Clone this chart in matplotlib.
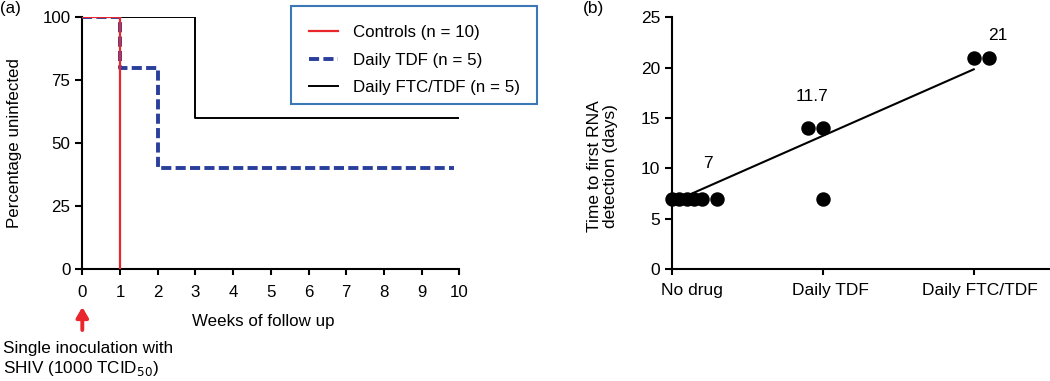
import matplotlib
matplotlib.use('Agg')
import matplotlib.pyplot as plt
import matplotlib.transforms as mtransforms
from matplotlib.patches import Rectangle
import numpy as np

plt.rcParams['font.family'] = ['Liberation Sans', 'DejaVu Sans']

# ---- panel (a) data: Kaplan-Meier style step curves ----
weeks_ctrl = [0, 1, 1]
pct_ctrl = [100, 100, 0]
weeks_tdf = [0, 1, 1, 2, 2, 9.85]
pct_tdf = [100, 100, 80, 80, 40, 40]
weeks_ftc = [0, 3, 3, 10]
pct_ftc = [100, 100, 60, 60]
week_ticks = list(range(0, 11))
pct_ticks = [0, 25, 50, 75, 100]

# ---- panel (b) data ----
groups = ["No drug", "Daily TDF", "Daily FTC/TDF"]
nodrug_days = [7, 7, 7, 7, 7, 7]
nodrug_jitter = [0, 0.05, 0.1, 0.15, 0.2, 0.3]
tdf_days = [14, 14, 7]
tdf_jitter = [-0.1, 0, 0]
ftc_days = [21, 21]
ftc_jitter = [0, 0.1]
group_means = ["7", "11.7", "21"]
days_ticks = [0, 5, 10, 15, 20, 25]

W, H = 1050, 381
fig = plt.figure(figsize=(W / 100, H / 100), dpi=100)

RED = '#e8262b'
BLUE = '#2a3f9c'
FA = 12.2   # panel (a) text size
FB = 12.5   # panel (b) text size

# ================= panel (a) =================
ax = fig.add_axes([82.3 / W, 1 - 269 / H, 377 / W, 251.7 / H])
ax.plot(weeks_ctrl, pct_ctrl, color=RED, lw=1.6, label='Controls (n = 10)', zorder=4)
ax.plot(weeks_tdf, pct_tdf, color=BLUE, lw=2.8, ls=(0, (2.6, 1.1)),
        label='Daily TDF (n = 5)', zorder=3)
ax.plot(weeks_ftc, pct_ftc, color='black', lw=1.4, label='Daily FTC/TDF (n = 5)', zorder=2)
ax.set_xlim(0, 10)
ax.set_ylim(0, 100)
ax.set_xticks(week_ticks)
ax.set_yticks(pct_ticks)
for s in ['top', 'right']:
    ax.spines[s].set_visible(False)
for s in ['left', 'bottom']:
    ax.spines[s].set_linewidth(1.5)
ax.tick_params(direction='out', width=1.5, labelsize=FA)
ax.tick_params(axis='x', length=4, pad=7.5)
ax.tick_params(axis='y', length=5, pad=3.5)
ax.set_ylabel('Percentage uninfected', fontsize=FA)
ax.yaxis.set_label_coords(-0.16, 0.5)
ax.text(0.479, -0.208, 'Weeks of follow up', transform=ax.transAxes,
        ha='center', va='center', fontsize=FA)

leg = ax.legend(loc='upper left', bbox_to_anchor=(309 / W, 1 - 25 / H),
                bbox_transform=fig.transFigure, borderaxespad=0, fontsize=FA,
                frameon=False, handlelength=1.7, handletextpad=0.9,
                labelspacing=0.74, borderpad=0)
fig.patches.append(Rectangle((291 / W, 1 - 104 / H), 246 / W, 98 / H,
                             transform=fig.transFigure, fill=False,
                             edgecolor='#3c78b6', lw=1.5))

# red arrow marking the inoculation at week 0
ax.annotate('', xy=(0, 1 - 307 / H), xytext=(0, 1 - 330 / H),
            xycoords=('data', 'figure fraction'), textcoords=('data', 'figure fraction'),
            arrowprops=dict(arrowstyle='-|>,head_width=0.35,head_length=0.6',
                            color=RED, lw=2.8, shrinkA=0, shrinkB=0),
            annotation_clip=False)
fig.text(3 / W, 1 - 348 / H, 'Single inoculation with', fontsize=12.3, va='center')
fig.text(3 / W, 1 - 369 / H, r'SHIV (1000 TCID$_{50}$)', fontsize=12.3, va='center')

fig.text(0 / W, 1 - 8 / H, '(a)', fontsize=FA, va='center')

# ================= panel (b) =================
bx = fig.add_axes([671.7 / W, 1 - 269 / H, 378.3 / W, 251.7 / H])
all_days = [nodrug_days, tdf_days, ftc_days]
all_jit = [nodrug_jitter, tdf_jitter, ftc_jitter]
gx, gy = [], []
for i, (days, jit) in enumerate(zip(all_days, all_jit)):
    xs = [i + j for j in jit]
    bx.plot(xs, days, 'o', color='black', ms=9.4, clip_on=False, zorder=3)
    gx += [i] * len(days)
    gy += days

# least-squares trend across the groups
slope, icpt = np.polyfit(gx, gy, 1)
fit_x = np.array([0.1, 2.0])
bx.plot(fit_x, slope * fit_x + icpt, color='black', lw=1.5, zorder=2)

mean_pos = [(0.24, 10.5), (0.93, 17.1), (2.16, 23.2)]
for txt, (mx, my) in zip(group_means, mean_pos):
    bx.text(mx, my, txt, ha='center', va='center', fontsize=FB)

bx.set_xlim(0, 2.505)
bx.set_ylim(0, 25)
bx.set_yticks(days_ticks)
bx.set_xticks(range(len(groups)))
bx.set_xticklabels([])
shifts = [20, 8, 6]
for i, (name, dx) in enumerate(zip(groups, shifts)):
    tr = mtransforms.offset_copy(bx.get_xaxis_transform(), fig=fig, x=dx, y=0, units='dots')
    bx.text(i, -0.085, name, transform=tr, ha='center', va='center', fontsize=FB)
for s in ['top', 'right']:
    bx.spines[s].set_visible(False)
for s in ['left', 'bottom']:
    bx.spines[s].set_linewidth(1.5)
bx.tick_params(direction='out', width=1.5, labelsize=FB)
bx.tick_params(axis='x', length=4)
bx.tick_params(axis='y', length=5, pad=3.4)
bx.set_ylabel('Time to first RNA\ndetection (days)', fontsize=FB, linespacing=1.05)
bx.yaxis.set_label_coords(-0.143, 0.41)

fig.text(583 / W, 1 - 8 / H, '(b)', fontsize=FB, va='center')

fig.savefig('out.png', dpi=100)
